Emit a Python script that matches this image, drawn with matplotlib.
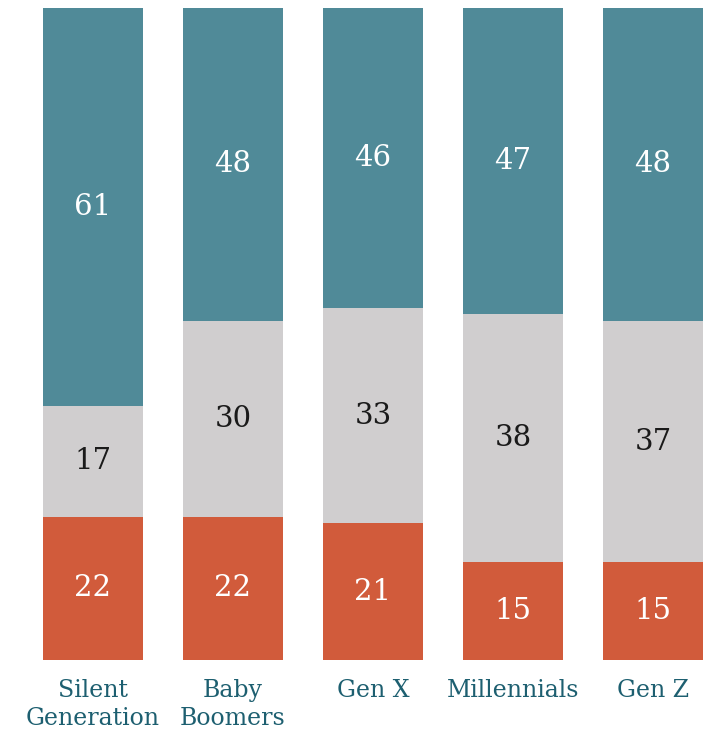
import numpy as np
import matplotlib.pyplot as plt

generations = ["Silent\nGeneration", "Baby\nBoomers", "Gen X", "Millennials", "Gen Z"]
bottom_vals = [22, 22, 21, 15, 15]
middle_vals = [17, 30, 33, 38, 37]
top_vals = [61, 48, 46, 47, 48]

c_bottom = "#d15b3b"
c_middle = "#d0cecf"
c_top = "#508a98"
label_color = "#1d5f70"

plt.rcParams['font.family'] = ['DejaVu Serif']

fig = plt.figure(figsize=(7.18, 7.32), dpi=100)
ax = fig.add_axes([0, 72 / 732, 1, 652 / 732])

x = np.arange(len(generations))
w = 100 / 140
b = np.array(bottom_vals)
m = np.array(middle_vals)
t = np.array(top_vals)

ax.bar(x, b, width=w, color=c_bottom)
ax.bar(x, m, width=w, bottom=b, color=c_middle)
ax.bar(x, t, width=w, bottom=b + m, color=c_top)

for i in range(len(x)):
    ax.text(x[i], b[i] / 2, str(b[i]), ha="center", va="center", color="white", fontsize=21)
    ax.text(x[i], b[i] + m[i] / 2, str(m[i]), ha="center", va="center", color="#1a1a1a", fontsize=21)
    ax.text(x[i], b[i] + m[i] + t[i] / 2, str(t[i]), ha="center", va="center", color="white", fontsize=21)

ax.set_xlim(-93 / 140, (718 - 93) / 140)
ax.set_ylim(0, 100)
ax.set_xticks(x)
ax.set_xticklabels(generations, color=label_color, fontsize=17, linespacing=1.25)
ax.tick_params(axis="x", length=0, pad=14)
ax.set_yticks([])
for s in ax.spines.values():
    s.set_visible(False)

fig.savefig("out.png", dpi=100)
